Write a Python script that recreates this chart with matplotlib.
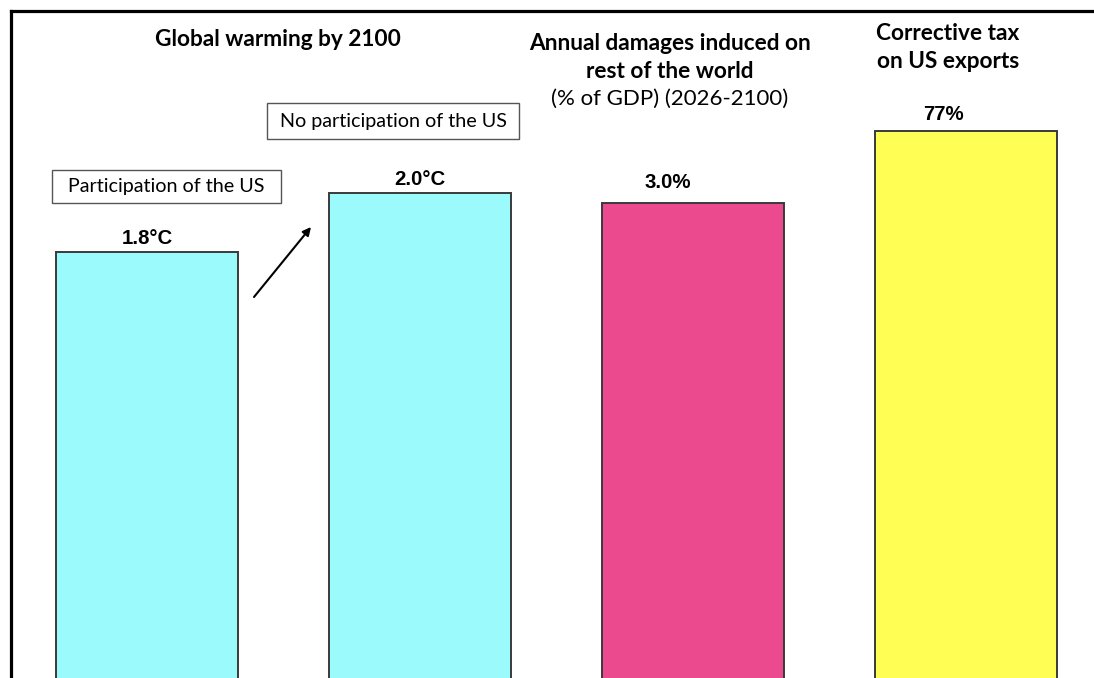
import matplotlib
matplotlib.use("Agg")
import matplotlib.pyplot as plt
from matplotlib.lines import Line2D
from matplotlib.patches import Rectangle

# ---- data ----
categories = ["Participation of the US", "No participation of the US",
              "Annual damages", "Corrective tax"]
warming = [1.8, 2.0]            # deg C by 2100
damages = [3.0]                 # % of GDP
tax = [77]                      # %
warming_labels = ["1.8°C", "2.0°C"]
damages_labels = ["3.0%"]
tax_labels = ["77%"]

W, H = 1094, 678
fig = plt.figure(figsize=(W / 100, H / 100), dpi=100)
fig.patch.set_facecolor("white")

def fx(px):
    return px / W

def fy(py):
    return 1 - py / H

# axes spanning full width, baseline below the visible image
base_px = 783
ax_rect = [0, fy(base_px), 1, base_px / H]
xlim = (-147 / 273, (W - 147) / 273)

def make_ax(top):
    ax = fig.add_axes(ax_rect)
    ax.set_xlim(*xlim)
    ax.set_ylim(0, top)
    ax.axis("off")
    ax.patch.set_alpha(0)
    return ax

ax_t = make_ax(2.0 * base_px / 590)
ax_d = make_ax(3.0 * base_px / 580)
ax_x = make_ax(77 * base_px / 652)

cyan = "#9AFAFC"
pink = "#EB4A8E"
yellow = "#FEFE55"
edge = "#3a3a3a"
bw = 182 / 273

ax_t.bar([0, 1], warming, width=bw, color=cyan, edgecolor=edge, linewidth=1.4)
ax_d.bar([2], damages, width=bw, color=pink, edgecolor=edge, linewidth=1.4)
ax_x.bar([3], tax, width=bw, color=yellow, edgecolor=edge, linewidth=1.4)

vfont = dict(family="Liberation Sans", fontweight="bold", fontsize=14.7,
             ha="center", va="bottom")
for x, v, lab in zip([0, 1], warming, warming_labels):
    ax_t.annotate(lab, (x, v), xytext=(0, 3), textcoords="offset points", **vfont)
ax_d.annotate(damages_labels[0], (2, damages[0]), xytext=(-18, 8),
              textcoords="offset points", **vfont)
ax_x.annotate(tax_labels[0], (3, tax[0]), xytext=(-16, 5),
              textcoords="offset points", **vfont)

# titles
tfont = dict(family="Lato", fontweight="bold", fontsize=16.3, ha="center", va="center")
fig.text(fx(278), fy(40), "Global warming by 2100", **tfont)
fig.text(fx(670), fy(44), "Annual damages induced on", **tfont)
fig.text(fx(670), fy(71), "rest of the world", **tfont)
fig.text(fx(670), fy(99), "(% of GDP) (2026-2100)", family="Lato", fontsize=16,
         ha="center", va="center")
fig.text(fx(948), fy(34), "Corrective tax", **tfont)
fig.text(fx(948), fy(61), "on US exports", **tfont)

# boxed labels
def box(x0, y0, x1, y1, text):
    fig.add_artist(Rectangle((fx(x0), fy(y1)), fx(x1) - fx(x0), fy(y0) - fy(y1),
                             transform=fig.transFigure, facecolor="white",
                             edgecolor="#555555", linewidth=1.0))
    fig.text(fx((x0 + x1) / 2), fy((y0 + y1) / 2), text, family="Lato",
             fontsize=14.2, ha="center", va="center")

box(52, 170, 281, 203, categories[0])
box(267, 103, 519, 139, categories[1])

# arrow
fig.add_artist(plt.Annotation("", xy=(fx(311), fy(227)), xytext=(fx(254), fy(297)),
                              xycoords="figure fraction", textcoords="figure fraction",
                              arrowprops=dict(arrowstyle="-|>", color="black", lw=1.5,
                                              mutation_scale=12, shrinkA=0, shrinkB=0)))

# frame
fig.add_artist(Line2D([fx(11), fx(W + 5)], [fy(11), fy(11)], color="black", lw=2.3,
                      transform=fig.transFigure))
fig.add_artist(Line2D([fx(11), fx(11)], [fy(11), fy(H + 5)], color="black", lw=2.3,
                      transform=fig.transFigure))

fig.savefig("out.png", dpi=100)
